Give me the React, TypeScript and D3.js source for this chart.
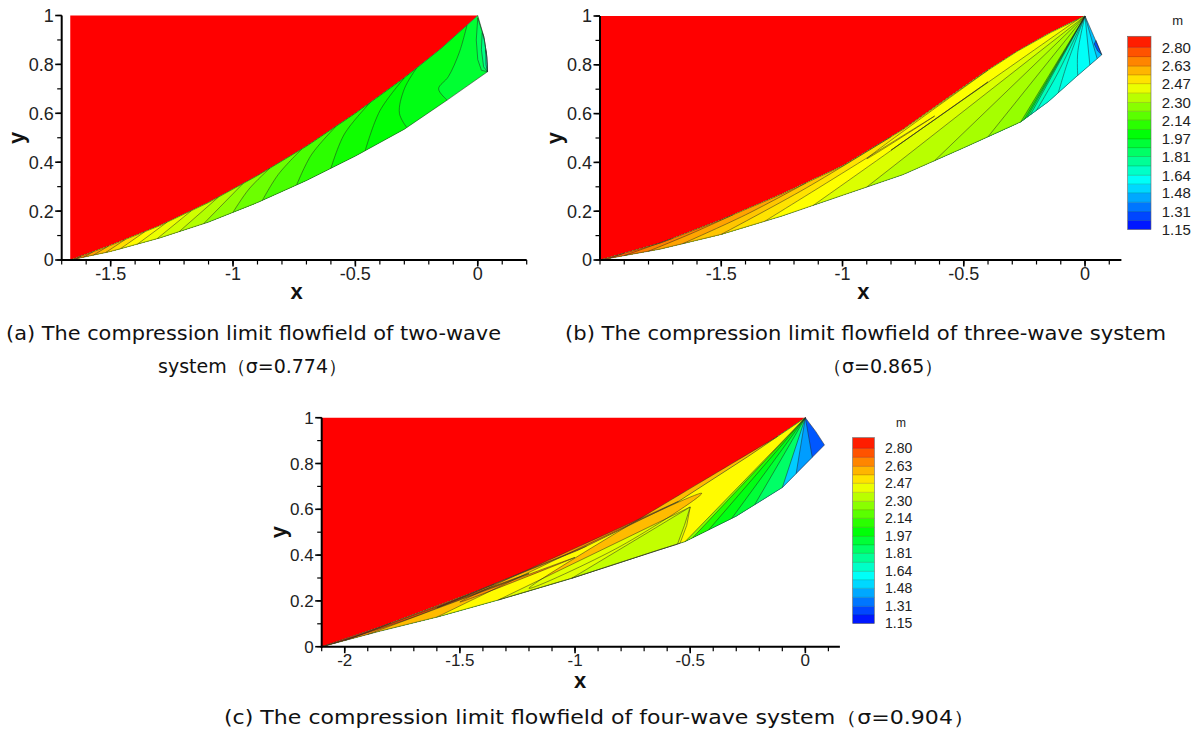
import React from "react";
import * as d3 from "d3";

type Pt = [number, number];
type Line = { m: number; lo: number; up: number; via?: Pt[] };
type Patch = { m: number; pts: Pt[] };

// m colour map (Tecplot small rainbow)
const colorStops = [1.15, 1.5875, 2.025, 2.4625, 2.9];
const colorHex = ["#0000ff", "#00ffff", "#00ff00", "#ffff00", "#ff0000"];
const cbValues = [2.8, 2.63, 2.47, 2.3, 2.14, 1.97, 1.81, 1.64, 1.48, 1.31, 1.15];
const cbLabels = ["2.80", "2.63", "2.47", "2.30", "2.14", "1.97", "1.81", "1.64", "1.48", "1.31", "1.15"];
const cbTop = 2.9;
const mFree = 2.9;

const yTicks = [0, 0.2, 0.4, 0.6, 0.8, 1];
const yTickLabels = ["0", "0.2", "0.4", "0.6", "0.8", "1"];

// (a) two-wave system
const aXTicks = [-1.5, -1, -0.5, 0];
const aXLabels = ["-1.5", "-1", "-0.5", "0"];
const aUpper: Pt[] = [[-1.665, 0], [-1.5, 0.06], [-1.3, 0.14], [-1.1, 0.235], [-0.9, 0.345], [-0.7, 0.465], [-0.5, 0.6], [-0.3, 0.745], [-0.15, 0.865], [0, 1]];
const aLower: Pt[] = [[-1.665, 0], [-1.5, 0.035], [-1.3, 0.09], [-1.1, 0.155], [-0.9, 0.235], [-0.7, 0.325], [-0.5, 0.425], [-0.3, 0.535], [-0.125, 0.654], [0.04, 0.77]];
const aRight: Pt[] = [[0, 1], [0.025, 0.913], [0.036, 0.84], [0.04, 0.77]];
const aLines: Line[] = [
  { m: 2.74, lo: -1.64, up: -1.62 },
  { m: 2.68, lo: -1.61, up: -1.57 },
  { m: 2.62, lo: -1.57, up: -1.51 },
  { m: 2.57, lo: -1.52, up: -1.44 },
  { m: 2.52, lo: -1.46, up: -1.36 },
  { m: 2.47, lo: -1.39, up: -1.27 },
  { m: 2.43, lo: -1.31, up: -1.17 },
  { m: 2.38, lo: -1.22, up: -1.06 },
  { m: 2.33, lo: -1.12, up: -0.96 },
  { m: 2.27, lo: -1.0, up: -0.85, via: [[-0.935, 0.29]] },
  { m: 2.21, lo: -0.88, up: -0.72, via: [[-0.815, 0.35]] },
  { m: 2.15, lo: -0.74, up: -0.58, via: [[-0.68, 0.43]] },
  { m: 2.1, lo: -0.6, up: -0.44, via: [[-0.545, 0.515]] },
  { m: 2.05, lo: -0.46, up: -0.3, via: [[-0.4, 0.61]] },
  { m: 2.02, lo: -0.29, up: -0.25, via: [[-0.3, 0.7], [-0.32, 0.6]] },
  { m: 1.99, lo: -0.125, up: -0.044, via: [[-0.075, 0.85], [-0.12, 0.75], [-0.16, 0.7]] },
];
const aBase = 1.94;
const aPatches: Patch[] = [
  { m: 1.88, pts: [[0.0, 0.99], [-0.006, 0.9], [0.0, 0.82], [0.015, 0.776], [0.04, 0.77], [0.036, 0.84], [0.025, 0.913]] },
  { m: 1.8, pts: [[0.018, 0.93], [0.015, 0.86], [0.024, 0.79], [0.04, 0.77], [0.036, 0.84], [0.027, 0.9]] },
  { m: 1.7, pts: [[0.032, 0.86], [0.033, 0.8], [0.04, 0.77], [0.037, 0.83]] },
];

// (b) three-wave system
const bXTicks = [-1.5, -1, -0.5, 0];
const bXLabels = ["-1.5", "-1", "-0.5", "0"];
const bUpper: Pt[] = [[-2, 0], [-1.75, 0.07], [-1.5, 0.165], [-1.25, 0.27], [-1.0, 0.385], [-0.75, 0.535], [-0.55, 0.675], [-0.42, 0.765], [-0.28, 0.855], [-0.14, 0.933], [0, 1]];
const bLower: Pt[] = [[-2, 0], [-1.75, 0.045], [-1.5, 0.105], [-1.25, 0.18], [-1.0, 0.265], [-0.75, 0.35], [-0.5, 0.46], [-0.265, 0.566], [-0.15, 0.65], [-0.041, 0.747], [0.069, 0.841]];
const bRight: Pt[] = [[0, 1], [0.035, 0.92], [0.069, 0.841]];
const bLines: Line[] = [
  { m: 2.78, lo: -1.96, up: -1.9 },
  { m: 2.73, lo: -1.9, up: -1.7 },
  { m: 2.68, lo: -1.8, up: -1.45, via: [[-1.62, 0.11]] },
  { m: 2.62, lo: -1.66, up: -1.15, via: [[-1.4, 0.185]] },
  { m: 2.56, lo: -1.5, up: -0.8, via: [[-1.15, 0.295]] },
  { m: 2.51, lo: -1.32, up: -0.4, via: [[-0.9, 0.415], [-0.62, 0.59]] },
  { m: 2.46, lo: -1.12, up: -0.03, via: [[-0.8, 0.45], [-0.4, 0.73]] },
  { m: 2.4, lo: -0.9, up: 0 },
  { m: 2.34, lo: -0.62, up: 0 },
  { m: 2.31, lo: -0.4, up: 0 },
  { m: 2.28, lo: -0.265, up: 0 },
  { m: 2.1, lo: -0.25, up: 0 },
  { m: 1.95, lo: -0.238, up: 0 },
  { m: 1.82, lo: -0.225, up: 0 },
  { m: 1.71, lo: -0.2, up: 0, via: [[-0.11, 0.77]] },
  { m: 1.66, lo: -0.11, up: 0, via: [[-0.075, 0.8]] },
  { m: 1.63, lo: -0.03, up: 0, via: [[-0.03, 0.85]] },
  { m: 1.6, lo: 0.02, up: 0 },
  { m: 1.55, lo: 0.05, up: 0 },
];
const bBase = 1.48;
const bPatches: Patch[] = [
  { m: 1.3, pts: [[0.069, 0.841], [0.045, 0.9], [0.038, 0.885], [0.052, 0.857]] },
];

// (c) four-wave system
const cXTicks = [-2, -1.5, -1, -0.5, 0];
const cXLabels = ["-2", "-1.5", "-1", "-0.5", "0"];
const cUpper: Pt[] = [[-2.1, 0], [-1.85, 0.085], [-1.42, 0.245], [-0.985, 0.422], [-0.55, 0.635], [-0.25, 0.83], [0, 1]];
const cLower: Pt[] = [[-2.1, 0], [-1.854, 0.066], [-1.593, 0.131], [-1.333, 0.204], [-1.014, 0.299], [-0.638, 0.422], [-0.522, 0.459], [-0.3, 0.57], [-0.1, 0.695], [0.083, 0.881]];
const cRight: Pt[] = [[0, 1], [0.045, 0.94], [0.083, 0.881]];
const cLines: Line[] = [
  { m: 2.82, lo: -2.08, up: -1.8, via: [[-1.95, 0.046]] },
  { m: 2.76, lo: -2.05, up: -1.35, via: [[-1.7, 0.13]] },
  { m: 2.7, lo: -2.0, up: -0.95, via: [[-1.6, 0.17], [-1.2, 0.32]] },
  { m: 2.65, lo: -1.9, up: -0.55, via: [[-1.5, 0.195], [-1.0, 0.39]] },
  { m: 2.58, lo: -1.6, up: -0.12, via: [[-1.2, 0.255], [-0.8, 0.44], [-0.45, 0.67]] },
  { m: 2.47, lo: -0.522, up: 0 },
  { m: 2.25, lo: -0.49, up: 0 },
  { m: 2.08, lo: -0.42, up: 0 },
  { m: 1.99, lo: -0.32, up: 0 },
  { m: 1.93, lo: -0.22, up: 0 },
  { m: 1.85, lo: -0.1, up: 0 },
  { m: 1.5, lo: -0.04, up: 0 },
  { m: 1.42, lo: 0.03, up: 0 },
];
const cBase = 1.3;
const cPatches: Patch[] = [
  { m: 2.41, pts: [[-1.333, 0.204], [-1.014, 0.299], [-0.638, 0.422], [-0.544, 0.452], [-0.515, 0.53], [-0.5, 0.61]] },
  { m: 2.36, pts: [[-1.014, 0.299], [-0.638, 0.422], [-0.555, 0.448], [-0.525, 0.53], [-0.5, 0.61]] },
];

const color = d3.scaleLinear<string>().domain(colorStops).range(colorHex).interpolate(d3.interpolateRgb).clamp(true);

const interp = (pts: Pt[], x: number): number => {
  if (x <= pts[0][0]) return pts[0][1];
  for (let i = 1; i < pts.length; i++) {
    if (x <= pts[i][0]) {
      const [x0, y0] = pts[i - 1], [x1, y1] = pts[i];
      return y0 + ((y1 - y0) * (x - x0)) / (x1 - x0);
    }
  }
  return pts[pts.length - 1][1];
};

type PanelProps = {
  upper: Pt[]; lower: Pt[]; right: Pt[]; lines: Line[]; base: number; patches: Patch[];
  redLeft: number; xDom: [number, number]; xPx: [number, number]; yPx: [number, number];
  xTicks: number[]; xLabels: string[]; font: number;
  yTitleX: number; xTitle: Pt; cb?: { x: number; w: number; y0: number; y1: number; lx: number; font: number; mY: number };
};

function Panel(p: PanelProps) {
  const xs = d3.scaleLinear().domain(p.xDom).range(p.xPx);
  const ys = d3.scaleLinear().domain([0, 1]).range(p.yPx);
  const line = d3.line<Pt>().x((d) => xs(d[0])).y((d) => ys(d[1]));
  const smooth = d3.line<Pt>().x((d) => xs(d[0])).y((d) => ys(d[1])).curve(d3.curveCatmullRom.alpha(0.5));
  const closed = (pts: Pt[]) => (line(pts) || "") + "Z";

  // contour line from its upper end to its lower end
  const linePts = (ln: Line): Pt[] => [[ln.up, interp(p.upper, ln.up)], ...(ln.via || []), [ln.lo, interp(p.lower, ln.lo)]];
  const leftOf = (ln: Line): string => {
    const up = line(p.upper.filter((q) => q[0] < ln.up)) || "";
    const cv = (smooth(linePts(ln)) || "").replace(/^M/, "L");
    const lo = (line(p.lower.filter((q) => q[0] < ln.lo).reverse()) || "").replace(/^M/, "L");
    return up + cv + lo + "Z";
  };
  const region: Pt[] = [...p.upper, ...p.right.slice(1), ...p.lower.slice().reverse()];
  const red: Pt[] = [[p.redLeft, 0], [p.redLeft, 1], ...p.upper.slice().reverse()];

  const x0 = p.xDom[0], x1 = p.xDom[1];
  const minorX = d3.range(Math.ceil(x0 * 10 - 1e-6), Math.floor(x1 * 10 + 1e-6) + 1).map((i) => i / 10);
  const minorY = d3.range(0, 11).map((i) => i / 10);
  const ax = xs(x0), ay = ys(0);

  let cbNode = null;
  if (p.cb) {
    const cb = p.cb;
    const cs = d3.scaleLinear().domain([1.15, 2.8]).range([cb.y0, cb.y1]);
    const asc = cbValues.slice().reverse();
    const edges: number[] = [];
    asc.forEach((v, i) => {
      edges.push(v);
      if (i < asc.length - 1) edges.push((v + asc[i + 1]) / 2);
    });
    edges.push(cbTop);
    cbNode = (
      <g>
        {edges.slice(0, -1).map((e, i) => (
          <rect key={i} x={cb.x} width={cb.w} y={cs(edges[i + 1])} height={cs(e) - cs(edges[i + 1]) + 0.3}
            fill={color((e + edges[i + 1]) / 2)} />
        ))}
        {edges.slice(1, -1).map((e, i) => (
          <line key={"l" + i} x1={cb.x} x2={cb.x + cb.w} y1={cs(e)} y2={cs(e)} stroke="#000" strokeOpacity={0.25} strokeWidth={0.7} />
        ))}
        <rect x={cb.x} width={cb.w} y={cs(cbTop)} height={cs(1.15) - cs(cbTop)} fill="none" stroke="#666" strokeWidth={0.6} />
        {cbValues.map((v, i) => (
          <text key={"t" + i} x={cb.lx} y={cs(v)} dy="0.36em" fontSize={cb.font} fill="#222">{cbLabels[i]}</text>
        ))}
        <text x={cb.lx + 16} y={cb.mY} textAnchor="middle" fontSize={cb.font - 2} fill="#222">m</text>
      </g>
    );
  }

  return (
    <g fontFamily="'Liberation Sans', Arial, sans-serif">
      <path d={closed(red)} fill={color(mFree)} />
      <path d={closed(region)} fill={color(p.base)} />
      {p.lines.slice().reverse().map((ln, i) => (
        <path key={"f" + i} d={leftOf(ln)} fill={color(ln.m)} />
      ))}
      {p.patches.map((pt, i) => (
        <path key={"p" + i} d={closed(pt.pts)} fill={color(pt.m)} stroke="#222" strokeOpacity={0.7} strokeWidth={0.7} />
      ))}
      {p.lines.map((ln, i) => (
        <path key={"c" + i} d={smooth(linePts(ln)) || ""} fill="none" stroke="#222" strokeOpacity={0.7} strokeWidth={0.7} />
      ))}
      <path d={closed(region)} fill="none" stroke="#333" strokeOpacity={0.8} strokeWidth={0.7} />

      {minorX.map((v) => (
        <line key={"mx" + v} x1={xs(v)} x2={xs(v)} y1={ay} y2={ay + 4.5} stroke="#000" strokeWidth={1.2} />
      ))}
      {p.xTicks.map((v) => (
        <line key={"Mx" + v} x1={xs(v)} x2={xs(v)} y1={ay} y2={ay + 6.5} stroke="#000" strokeWidth={1.6} />
      ))}
      {minorY.map((v) => (
        <line key={"my" + v} x1={ax - 4.5} x2={ax} y1={ys(v)} y2={ys(v)} stroke="#000" strokeWidth={1.2} />
      ))}
      {yTicks.map((v) => (
        <line key={"My" + v} x1={ax - 6.5} x2={ax} y1={ys(v)} y2={ys(v)} stroke="#000" strokeWidth={1.6} />
      ))}
      <line x1={ax} x2={ax} y1={ys(0) + 1} y2={ys(1)} stroke="#000" strokeWidth={2} />
      <line x1={ax - 1} x2={xs(x1)} y1={ay} y2={ay} stroke="#000" strokeWidth={2} />
      {p.xTicks.map((v, i) => (
        <text key={"xl" + v} x={xs(v)} y={ay + p.font + 2} textAnchor="middle" fontSize={p.font} fill="#222">{p.xLabels[i]}</text>
      ))}
      {yTicks.map((v, i) => (
        <text key={"yl" + v} x={ax - 8} y={ys(v)} dy="0.36em" textAnchor="end" fontSize={p.font} fill="#222">{yTickLabels[i]}</text>
      ))}
      <text x={p.xTitle[0]} y={p.xTitle[1]} textAnchor="middle" fontSize={22} fontWeight="bold" fill="#111">x</text>
      <text transform={`translate(${p.yTitleX},${(ys(0) + ys(1)) / 2}) rotate(-90)`} dy="0.3em" textAnchor="middle" fontSize={22} fontWeight="bold" fill="#111">y</text>
      {cbNode}
    </g>
  );
}

const captions = [
  { text: "(a) The compression limit flowfield of two-wave", x: 6, y: 340, w: 495 },
  { text: "system\uFF08\u03C3=0.774\uFF09", x: 158, y: 373, w: 0 },
  { text: "(b) The compression limit flowfield of three-wave system", x: 565, y: 340, w: 601 },
  { text: "\uFF08\u03C3=0.865\uFF09", x: 823, y: 373, w: 0 },
  { text: "(c) The compression limit flowfield of four-wave system\uFF08\u03C3=0.904\uFF09", x: 224, y: 724, w: 751 },
];

export default function App() {
  return (
    <svg width={1201} height={733} style={{ position: "absolute", left: 0, top: 0, background: "#fff" }}>
      <rect width={1201} height={733} fill="#fff" />
      <Panel upper={aUpper} lower={aLower} right={aRight} lines={aLines} base={aBase} patches={aPatches}
        redLeft={-1.665} xDom={[-1.7, 0.2]} xPx={[61.7, 526.7]} yPx={[260, 15.5]}
        xTicks={aXTicks} xLabels={aXLabels} font={18} yTitleX={17} xTitle={[296.7, 299]} />
      <Panel upper={bUpper} lower={bLower} right={bRight} lines={bLines} base={bBase} patches={bPatches}
        redLeft={-2} xDom={[-2, 0.15]} xPx={[600, 1121.4]} yPx={[260, 16]}
        xTicks={bXTicks} xLabels={bXLabels} font={18} yTitleX={555} xTitle={[863.3, 299]}
        cb={{ x: 1127.7, w: 23.3, y0: 229.3, y1: 47.3, lx: 1161.7, font: 15, mY: 25 }} />
      <Panel upper={cUpper} lower={cLower} right={cRight} lines={cLines} base={cBase} patches={cPatches}
        redLeft={-2.1} xDom={[-2.1, 0.15]} xPx={[321.7, 839.9]} yPx={[646.7, 417.7]}
        xTicks={cXTicks} xLabels={cXLabels} font={17} yTitleX={279} xTitle={[580, 688]}
        cb={{ x: 852.7, w: 21.6, y0: 623.3, y1: 448.3, lx: 885, font: 14, mY: 427 }} />
      <g fontFamily="'DejaVu Sans', Verdana, sans-serif" fontSize={19} fill="#111">
        {captions.map((c, i) =>
          c.w > 0 ? (
            <text key={i} x={c.x} y={c.y} textLength={c.w} lengthAdjust="spacingAndGlyphs">{c.text}</text>
          ) : (
            <text key={i} x={c.x} y={c.y}>{c.text}</text>
          )
        )}
      </g>
    </svg>
  );
}
